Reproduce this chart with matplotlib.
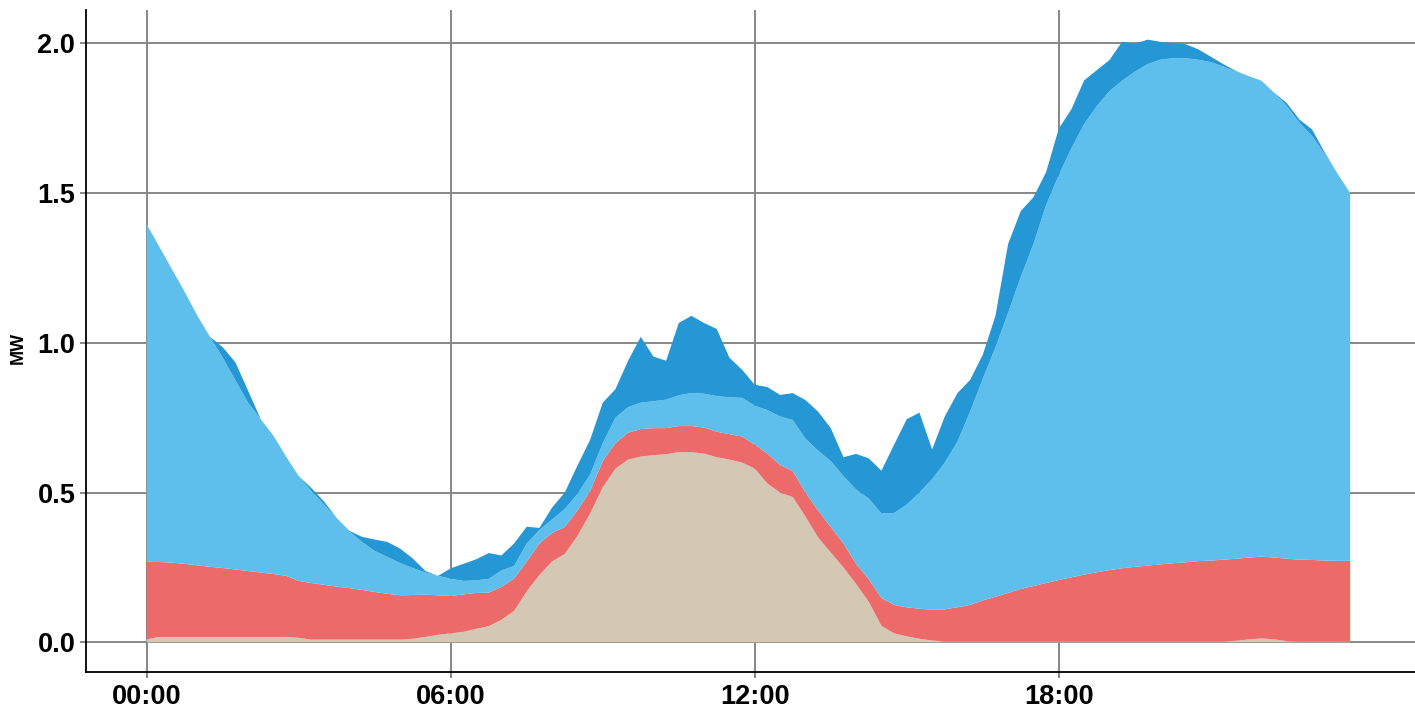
import matplotlib
matplotlib.use("Agg")
import matplotlib.pyplot as plt
import numpy as np

# 15-minute steps, 00:00 .. 23:45 (hours)
hours = np.arange(96) * 0.25

# layer values in MW, bottom to top
tan_layer = [
    .010, .018, .018, .018, .018, .018, .018, .018, .018, .018, .018, .018,
    .015, .009, .009, .009, .009, .009, .009, .009, .009, .012, .018, .025,
    .030, .035, .045, .054, .075, .105, .170, .225, .270, .295, .355, .430,
    .518, .580, .610, .620, .625, .628, .635, .635, .630, .618, .610, .600,
    .580, .530, .500, .485, .420, .350, .300, .250, .195, .135, .055, .030,
    .020, .012, .006, .003, .003, .003, .003, .003, .003, .003, .003, .003,
    .003, .003, .003, .003, .003, .003, .003, .003, .003, .003, .003, .003,
    .003, .003, .005, .010, .013, .010, .004, .003, .003, .003, .003, .003,
]
red_layer = [
    .259, .250, .248, .244, .239, .234, .230, .225, .220, .215, .210, .204,
    .190, .189, .183, .177, .172, .166, .159, .153, .148, .146, .141, .132,
    .125, .125, .120, .112, .110, .108, .100, .105, .095, .090, .085, .075,
    .087, .085, .090, .092, .090, .087, .087, .087, .087, .085, .085, .087,
    .080, .100, .092, .087, .080, .090, .085, .080, .067, .075, .093, .095,
    .097, .100, .103, .107, .114, .122, .137, .149, .162, .175, .185, .195,
    .205, .214, .223, .231, .238, .244, .249, .253, .257, .261, .264, .268,
    .270, .273, .274, .273, .273, .273, .275, .273, .272, .270, .269, .269,
]
light_blue_layer = [
    1.126, 1.052, .979, .908, .833, .768, .702, .632, .562, .512, .462, .398,
    .350, .307, .268, .229, .189, .160, .137, .123, .108, .090, .074, .065,
    .057, .045, .042, .046, .055, .042, .060, .045, .045, .060, .055, .055,
    .060, .085, .085, .088, .090, .095, .103, .110, .113, .119, .123, .129,
    .130, .145, .162, .170, .180, .200, .220, .225, .248, .270, .282, .307,
    .343, .388, .436, .490, .553, .645, .740, .833, .935, 1.042, 1.142, 1.262,
    1.352, 1.433, 1.504, 1.556, 1.599, 1.628, 1.653, 1.674, 1.685, 1.686, 1.683, 1.674,
    1.664, 1.646, 1.626, 1.607, 1.589, 1.552, 1.511, 1.459, 1.415, 1.357, 1.293, 1.228,
]
dark_blue_layer = [
    0, 0, 0, 0, 0, 0, .035, .060, .040, 0, 0, 0,
    0, .010, .010, 0, .002, .017, .038, .050, .048, .032, .005, 0,
    .035, .057, .070, .086, .050, .075, .056, .007, .040, .055, .095, .116,
    .135, .095, .155, .220, .149, .130, .241, .258, .236, .224, .132, .094,
    .070, .077, .072, .090, .129, .130, .110, .063, .119, .134, .143, .228,
    .285, .267, .099, .154, .162, .106, .080, .105, .230, .220, .156, .110,
    .155, .130, .146, .120, .104, .130, .093, .082, .060, .050, .047, .035,
    .018, .008, .002, 0, 0, 0, .010, .010, .022, .005, 0, 0,
]

layer_colors = ["#D4C8B4", "#EC6A69", "#5EBFEC", "#2597D4"]
tick_hours = [0, 6, 12, 18]
tick_labels = ["00:00", "06:00", "12:00", "18:00"]
y_ticks = [0.0, 0.5, 1.0, 1.5, 2.0]

plt.rcParams["font.family"] = ["Liberation Sans", "DejaVu Sans"]

fig = plt.figure(figsize=(14.15, 7.08), dpi=100)
ax = fig.add_axes([0.0608, 0.0513, 0.9392, 0.9346])

ax.stackplot(hours, tan_layer, red_layer, light_blue_layer, dark_blue_layer,
             colors=layer_colors, linewidth=0, antialiased=True)

ax.set_xlim(-1.198, 25.03)
ax.set_ylim(-0.098, 2.111)
ax.set_xticks(tick_hours)
ax.set_xticklabels(tick_labels)
ax.set_yticks(y_ticks)
ax.set_yticklabels([f"{v:.1f}" for v in y_ticks])

ax.grid(True, color="#878787", linewidth=1.4)
ax.set_axisbelow(True)

for side in ["top", "right"]:
    ax.spines[side].set_visible(False)
for side in ["left", "bottom"]:
    ax.spines[side].set_color("black")
    ax.spines[side].set_linewidth(1.3)

ax.tick_params(axis="both", length=4.2, width=1.4, color="#878787",
               labelsize=19.5)
ax.tick_params(axis="y", pad=3.5)
ax.tick_params(axis="x", pad=4.5)
for lab in ax.get_xticklabels() + ax.get_yticklabels():
    lab.set_fontweight("bold")

ax.set_ylabel("MW", fontsize=13, fontweight="bold")
ax.yaxis.set_label_coords(-0.0444, 0.49)

fig.savefig("out.png", dpi=100)
